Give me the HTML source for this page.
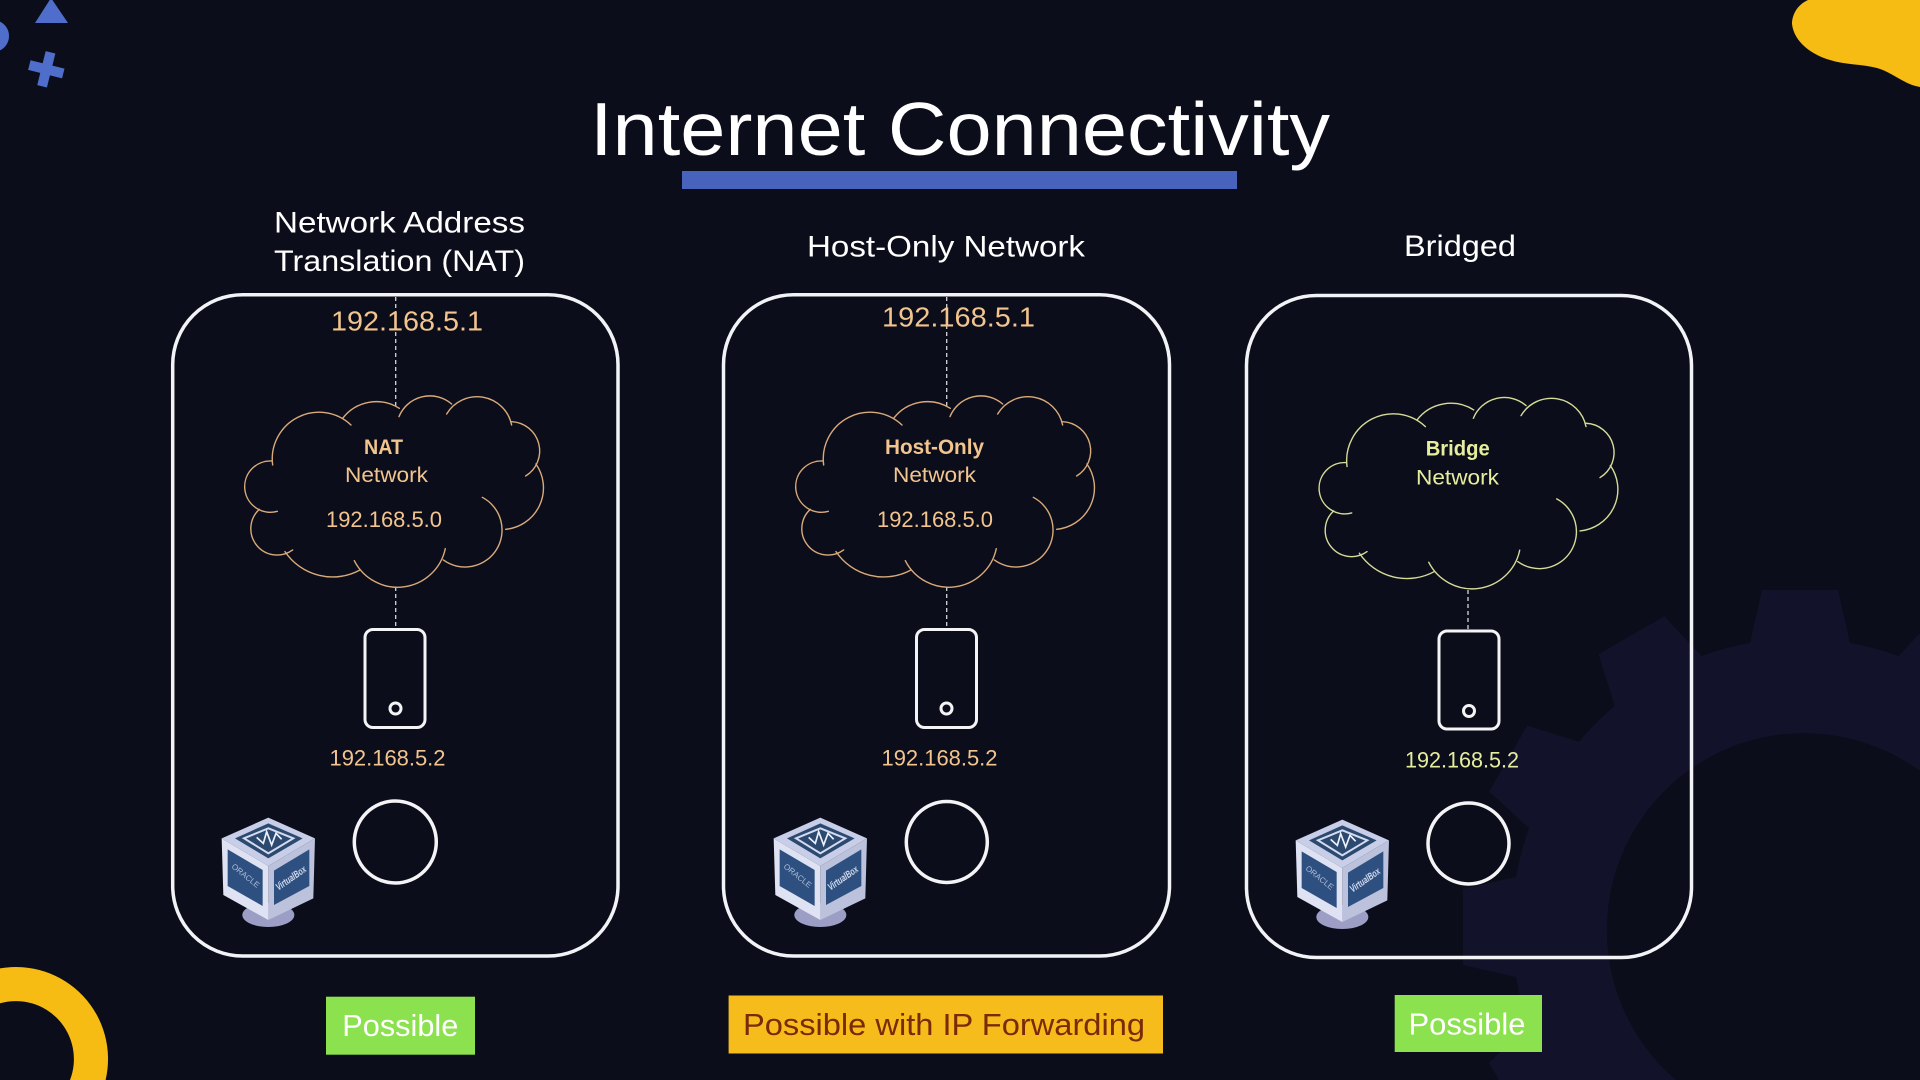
<!DOCTYPE html>
<html><head><meta charset="utf-8"><style>
html,body{margin:0;padding:0;background:#0c0d1a;width:1920px;height:1080px;overflow:hidden}
svg{display:block}
text{font-family:"Liberation Sans",sans-serif}
</style></head><body>
<svg width="1920" height="1080" viewBox="0 0 1920 1080" xmlns="http://www.w3.org/2000/svg">
<defs>
<g id="cloud" fill="none" stroke-width="4.2" stroke-linecap="round">
<path d="M338,555 A140,140 0 0 1 573,435"/>
<path d="M548,415 A128,128 0 0 1 718,385"/>
<path d="M717,410 A100,100 0 0 1 875,372"/>
<path d="M860,402 A106,106 0 0 1 1055,435"/>
<path d="M1055,425 A88,88 0 0 1 1097,588"/>
<path d="M1128,552 A125,125 0 0 1 1037,748"/>
<path d="M967,652 A111,111 0 1 1 850,840"/>
<path d="M856,806 A146,146 0 0 1 583,842"/>
<path d="M600,870 A172,172 0 0 1 375,815"/>
<path d="M398,810 A79,79 0 0 1 298,688"/>
<path d="M352,694 A77,77 0 1 1 335,543"/>
</g>
<g id="cube">
<ellipse cx="205" cy="405" rx="78" ry="36" fill="#9c9ec6"/>
<polygon points="205,113 345,175 205,258 65,175" fill="#c8cee8"/>
<polygon points="65,175 205,258 205,420 70,345" fill="#dfe2f2"/>
<polygon points="345,175 205,258 205,420 340,355" fill="#bcc2dc"/>
<polygon points="205,130 308,175 205,235 105,175" fill="#2c4a70"/>
<polygon points="205,145 280,175 205,220 132,175" fill="none" stroke="#d5dbf0" stroke-width="6"/>
<polyline points="170,172 190,190 200,155 215,195 228,160 245,178" fill="none" stroke="#eef1fb" stroke-width="5"/>
<polygon points="83,208 188,270 188,378 83,318" fill="#2e5080"/>
<polygon points="328,208 222,272 222,375 328,318" fill="#2e5080"/>
<text x="0" y="0" font-size="24" fill="#aebbd6" textLength="100" lengthAdjust="spacingAndGlyphs" transform="translate(93,262) rotate(39)">ORACLE</text>
<text x="0" y="0" font-size="30" font-weight="bold" font-style="italic" fill="#d4dcee" textLength="104" lengthAdjust="spacingAndGlyphs" transform="translate(236,332) rotate(-35)">VirtualBox</text>
</g>
</defs>

<rect width="1920" height="1080" fill="#0c0d1a"/>

<!-- gear -->
<path fill="#12122a" d="M1499,1080 L1489,1062.6 L1529,1025.7 A288.4,288.4 0 0 1 1516,977 L1463,965 L1463,889 L1516,877 A288.4,288.4 0 0 1 1529,828.3 L1489.2,791.4 L1527.2,725.6 L1579,741.7 A288.4,288.4 0 0 1 1614.7,706 L1598.6,654.2 L1664.4,616.2 L1701.3,656 A288.4,288.4 0 0 1 1750,643 L1762,590 L1838,590 L1850,643 A288.4,288.4 0 0 1 1898.7,656 L1920,633 L1920,771 A197,197 0 0 0 1676,1080 Z"/>

<!-- ornaments -->
<polygon points="49.7,0 52.4,0 68,23 35,23" fill="#4f6dcb"/>
<path d="M0,21.6 A16,16 0 0 1 0,50.4 Z" fill="#4f6dcb"/>
<g transform="translate(46.3,69.3) rotate(14)" fill="#4f6dcb">
<rect x="-17.5" y="-5" width="35" height="10"/>
<rect x="-5" y="-17.5" width="10" height="35"/>
</g>
<path d="M1808,0 C1797,5 1792,15 1792,24 C1794,42 1812,55 1830,60 C1845,65 1862,64 1877,68 C1892,72 1903,84 1920,87 L1920,0 Z" fill="#f6bc14"/>
<path d="M0,968.4 A92,92 0 0 1 105.6,1080 L70,1080 A58,58 0 0 0 0,1003.3 Z" fill="#f6bc14"/>

<!-- title -->
<text x="590" y="155" font-size="75" fill="#ffffff" textLength="740" lengthAdjust="spacingAndGlyphs">Internet Connectivity</text>
<rect x="682" y="171" width="555" height="18" fill="#4763bb"/>

<!-- headings -->
<g font-size="30" fill="#ffffff">
<text x="274" y="232.5" textLength="251" lengthAdjust="spacingAndGlyphs">Network Address</text>
<text x="274" y="271" textLength="251" lengthAdjust="spacingAndGlyphs">Translation (NAT)</text>
<text x="807" y="256.5" textLength="278" lengthAdjust="spacingAndGlyphs">Host-Only Network</text>
<text x="1404" y="256" textLength="112" lengthAdjust="spacingAndGlyphs">Bridged</text>
</g>

<!-- boxes -->
<g fill="none" stroke="#f2f3f6" stroke-width="3.5">
<rect x="172.7" y="294.7" width="445.3" height="661.3" rx="70"/>
<rect x="723.5" y="294.7" width="446" height="661.3" rx="70"/>
<rect x="1246.5" y="295.5" width="445" height="662" rx="70"/>
</g>

<!-- dashes -->
<g stroke="#d6d6d6" stroke-width="1.3" stroke-dasharray="4 3" fill="none">
<path d="M395.7,297 V406 M395.7,587 V628"/>
<path d="M946.7,297 V406 M946.7,587 V628"/>
<path d="M1468,590 V630"/>
</g>

<!-- clouds -->
<use href="#cloud" stroke="#d9ab7a" transform="translate(160,280) scale(0.3333)"/>
<use href="#cloud" stroke="#d9ab7a" transform="translate(711,280) scale(0.3333)"/>
<use href="#cloud" stroke="#d5dc98" transform="translate(1234.4,281.6) scale(0.3333)"/>

<!-- phones -->
<g fill="none" stroke="#f4f4f6" stroke-width="3">
<rect x="365" y="629.5" width="60" height="98" rx="8"/>
<circle cx="395.5" cy="708.5" r="5.5"/>
<rect x="916.5" y="629.5" width="60" height="98" rx="8"/>
<circle cx="946.5" cy="708.5" r="5.5"/>
<rect x="1439" y="631" width="60" height="98" rx="8"/>
<circle cx="1469" cy="711" r="5.5"/>
</g>

<!-- circles -->
<g fill="none" stroke="#f4f4f6" stroke-width="3.5">
<circle cx="395.3" cy="842" r="41"/>
<circle cx="946.8" cy="842" r="40.5"/>
<circle cx="1468.5" cy="843.5" r="40.5"/>
</g>

<!-- cubes -->
<use href="#cube" transform="translate(200,780) scale(0.3333)"/>
<use href="#cube" transform="translate(752,780) scale(0.3333)"/>
<use href="#cube" transform="translate(1274,782) scale(0.3333)"/>

<!-- orange labels -->
<g fill="#f2c48e">
<text x="331" y="330.5" font-size="28" textLength="152" lengthAdjust="spacingAndGlyphs">192.168.5.1</text>
<text x="882" y="326.5" font-size="28" textLength="153" lengthAdjust="spacingAndGlyphs">192.168.5.1</text>
<text x="364" y="454" font-size="21" font-weight="bold" textLength="39" lengthAdjust="spacingAndGlyphs">NAT</text>
<text x="345" y="482" font-size="21" textLength="83" lengthAdjust="spacingAndGlyphs">Network</text>
<text x="326" y="527" font-size="22" textLength="116" lengthAdjust="spacingAndGlyphs">192.168.5.0</text>
<text x="329.5" y="765.5" font-size="22" textLength="116" lengthAdjust="spacingAndGlyphs">192.168.5.2</text>
<text x="885" y="454" font-size="21" font-weight="bold" textLength="99" lengthAdjust="spacingAndGlyphs">Host-Only</text>
<text x="893" y="482" font-size="21" textLength="83" lengthAdjust="spacingAndGlyphs">Network</text>
<text x="877" y="527" font-size="22" textLength="116" lengthAdjust="spacingAndGlyphs">192.168.5.0</text>
<text x="881.5" y="765.5" font-size="22" textLength="116" lengthAdjust="spacingAndGlyphs">192.168.5.2</text>
</g>
<g fill="#e6ee9e">
<text x="1425.7" y="455.7" font-size="21" font-weight="bold" textLength="64" lengthAdjust="spacingAndGlyphs">Bridge</text>
<text x="1416" y="484.3" font-size="21" textLength="83" lengthAdjust="spacingAndGlyphs">Network</text>
<text x="1405" y="767.3" font-size="22" textLength="114" lengthAdjust="spacingAndGlyphs">192.168.5.2</text>
</g>

<!-- badges -->
<rect x="326" y="996.7" width="149" height="58" fill="#8ce14e"/>
<text x="342.3" y="1036" font-size="31" fill="#ffffff" textLength="116" lengthAdjust="spacingAndGlyphs">Possible</text>
<rect x="728.6" y="995.5" width="434.4" height="58" fill="#f6bc1c"/>
<text x="743" y="1035" font-size="31" fill="#7a2a06" textLength="402" lengthAdjust="spacingAndGlyphs">Possible with IP Forwarding</text>
<rect x="1394.7" y="995" width="147.3" height="57" fill="#8ce14e"/>
<text x="1408.5" y="1034.5" font-size="31" fill="#ffffff" textLength="117" lengthAdjust="spacingAndGlyphs">Possible</text>
</svg>
</body></html>
